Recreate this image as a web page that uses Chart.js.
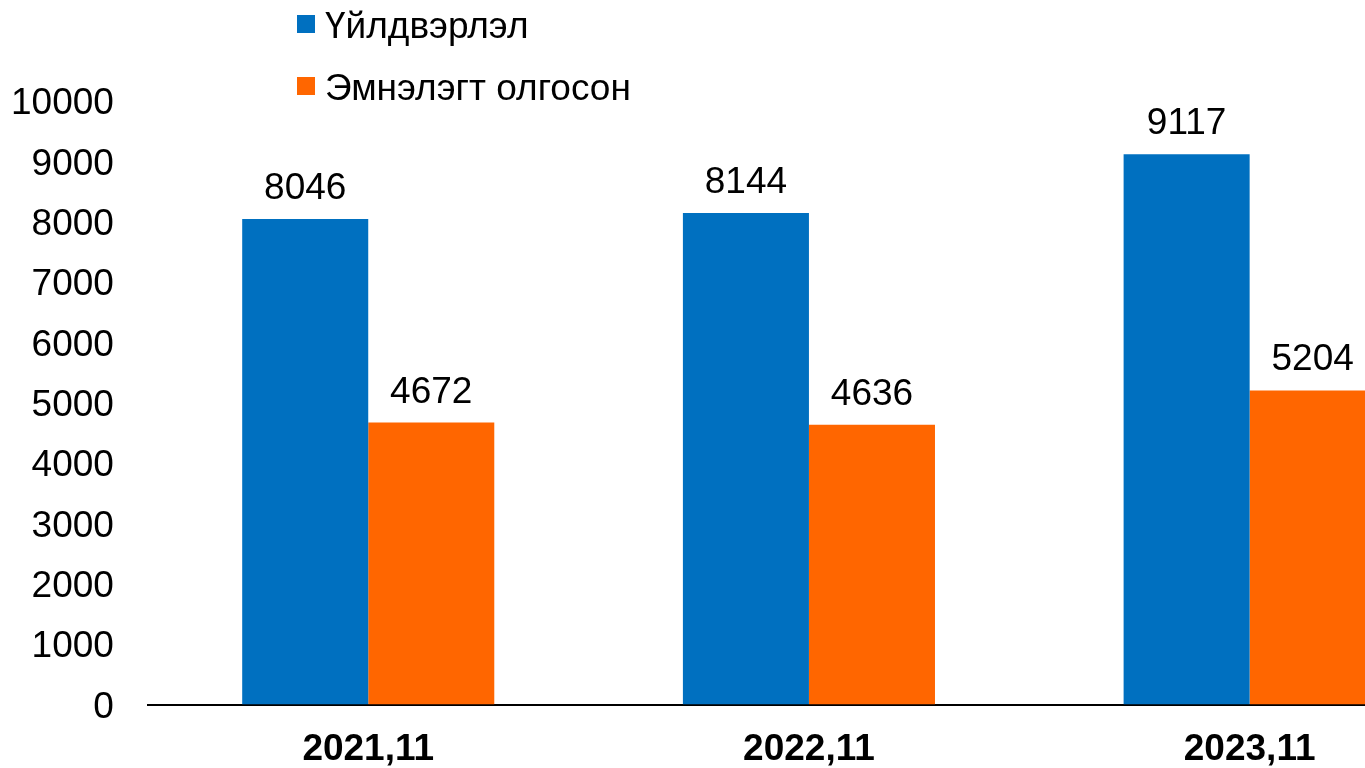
<!DOCTYPE html>
<html>
<head>
<meta charset="utf-8">
<script src="https://cdn.jsdelivr.net/npm/chart.js@4"></script>
<style>
  html, body { margin: 0; padding: 0; background: #fff; overflow: hidden; }
  #wrap { position: relative; width: 1365px; height: 768px; overflow: hidden; }
  #chart { position: absolute; left: -23px; top: 0; }
  #legend { position: absolute; left: 297px; top: 0; font-family: "Liberation Sans", Arial, sans-serif; font-size: 37px; color: #000; }
  .item { position: absolute; left: 0; white-space: nowrap; height: 40px; }
  .box { position: absolute; left: 0; width: 18px; height: 18px; }
  .txt { position: absolute; left: 28px; top: 0; line-height: 40px; }
</style>
</head>
<body>
<div id="wrap">
  <canvas id="chart" width="1493" height="795" style="width:1493px;height:795px;"></canvas>
  <div id="legend"></div>
</div>
<script>
// Данные
const categories = ["2021,11", "2022,11", "2023,11"];
const seriesNames = ["Үйлдвэрлэл", "Эмнэлэгт олгосон"];
const production = [8046, 8144, 9117];
const hospital = [4672, 4636, 5204];
const yTicks = [0, 1000, 2000, 3000, 4000, 5000, 6000, 7000, 8000, 9000, 10000];
const colors = ["#0070C0", "#FF6600"];

const font = "'Liberation Sans', Arial, sans-serif";

// утгыг баганын дээр бичих
const valueLabels = {
  id: "valueLabels",
  afterDatasetsDraw(chart) {
    const ctx = chart.ctx;
    ctx.save();
    ctx.font = "37px " + font;
    ctx.fillStyle = "#000";
    ctx.textAlign = "center";
    ctx.textBaseline = "alphabetic";
    chart.data.datasets.forEach((ds, i) => {
      chart.getDatasetMeta(i).data.forEach((bar, j) => {
        ctx.fillText(String(ds.data[j]), bar.x, bar.y - 20);
      });
    });
    ctx.restore();
  }
};

const chart = new Chart(document.getElementById("chart"), {
  type: "bar",
  data: {
    labels: categories,
    datasets: [
      { label: seriesNames[0], data: production, backgroundColor: colors[0], categoryPercentage: 0.572, barPercentage: 1 },
      { label: seriesNames[1], data: hospital, backgroundColor: colors[1], categoryPercentage: 0.572, barPercentage: 1 }
    ]
  },
  options: {
    responsive: false,
    animation: false,
    layout: { padding: { top: 101, left: 0, right: 0, bottom: 0 } },
    plugins: {
      legend: { display: false },
      tooltip: { enabled: false }
    },
    scales: {
      x: {
        grid: { display: false, drawTicks: false },
        border: { display: true, color: "#000", width: 2 },
        ticks: { color: "#000", padding: 23, font: { family: font, size: 37, weight: "bold" } }
      },
      y: {
        min: 0,
        max: 10000,
        afterBuildTicks: (axis) => { axis.ticks = yTicks.map(v => ({ value: v })); },
        grid: { display: false, drawTicks: false },
        border: { display: false },
        ticks: { color: "#000", padding: 34, labelOffset: 3, callback: (v) => String(v), font: { family: font, size: 37 } }
      }
    }
  },
  plugins: [valueLabels]
});

// HTML legend
const legend = document.getElementById("legend");
seriesNames.forEach((name, i) => {
  const item = document.createElement("div");
  item.className = "item";
  item.style.top = (6 + i * 62) + "px";
  item.innerHTML = `<span class="box" style="background:${colors[i]};top:9px"></span><span class="txt">${name}</span>`;
  legend.appendChild(item);
});
</script>
</body>
</html>
